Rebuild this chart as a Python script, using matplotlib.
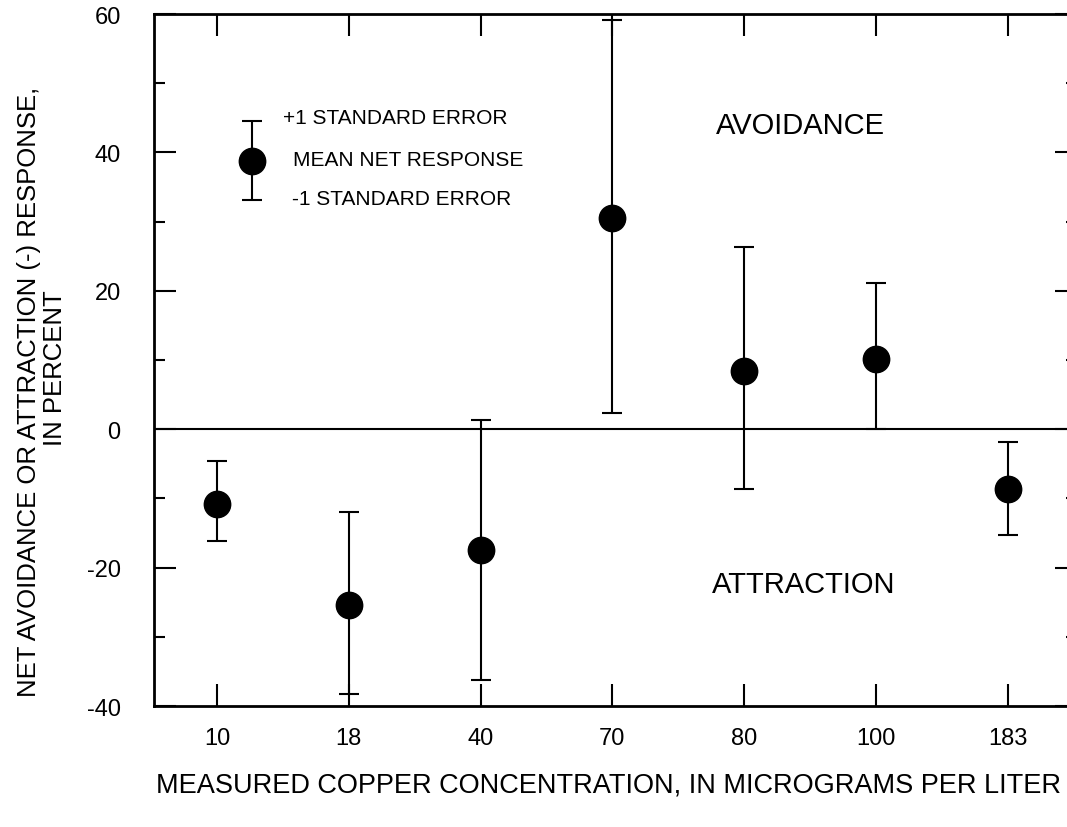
import numpy as np
import matplotlib
matplotlib.use("Agg")
import matplotlib.pyplot as plt
from matplotlib.ticker import MultipleLocator

plt.rcParams['font.family'] = ['Liberation Sans', 'DejaVu Sans']
plt.rcParams['axes.unicode_minus'] = False

# copper concentrations (categories) and responses
concentrations = ['10', '18', '40', '70', '80', '100', '183']
mean_response = [-10.8, -25.4, -17.4, 30.6, 8.4, 10.1, -8.6]
upper_se = [-4.6, -12.0, 1.4, 59.2, 26.3, 21.1, -1.9]
lower_se = [-16.1, -38.2, -36.3, 2.3, -8.6, 0.0, -15.3]

y_ticks = [-40, -20, 0, 20, 40, 60]

x = np.arange(len(concentrations))
mean = np.array(mean_response)
yerr = [mean - np.array(lower_se), np.array(upper_se) - mean]

fig = plt.figure(figsize=(10.67, 8.28), dpi=100)
ax = fig.add_axes([0.1443, 0.1461, 0.865, 0.8357])

# zero line
ax.axhline(0, color='black', lw=1.5, zorder=1)

ax.errorbar(x, mean, yerr=yerr, fmt='o', color='black', ms=19,
            elinewidth=1.5, capsize=7.5, capthick=1.5, zorder=3)

# legend key
ax.errorbar([0.266], [38.8], yerr=[[5.6], [5.8]], fmt='o', color='black', ms=19,
            elinewidth=1.5, capsize=7.5, capthick=1.5, zorder=3)
ax.text(0.50, 45.1, '+1 STANDARD ERROR', fontsize=15, va='center', ha='left')
ax.text(0.575, 39.0, 'MEAN NET RESPONSE', fontsize=15, va='center', ha='left')
ax.text(0.57, 33.4, '-1 STANDARD ERROR', fontsize=15, va='center', ha='left')

ax.text(4.43, 43.9, 'AVOIDANCE', fontsize=21, ha='center', va='center')
ax.text(4.45, -22.3, 'ATTRACTION', fontsize=21, ha='center', va='center')

ax.set_xlim(-0.478, 6.525)
ax.set_ylim(-40, 60)
ax.set_xticks(x)
ax.set_xticklabels(concentrations)
ax.set_yticks(y_ticks)
ax.yaxis.set_minor_locator(MultipleLocator(10))

ax.tick_params(axis='x', which='major', direction='in', top=True, bottom=True,
               length=16, width=1.5, labelsize=17, pad=15)
ax.tick_params(axis='y', which='major', direction='in', left=True, right=True,
               length=16, width=1.5, labelsize=17, pad=24)
ax.tick_params(axis='y', which='minor', direction='in', left=True, right=True,
               length=8, width=1.5)

for s in ax.spines.values():
    s.set_linewidth(2)

ax.set_xlabel('MEASURED COPPER CONCENTRATION, IN MICROGRAMS PER LITER',
              fontsize=19.5)
ax.xaxis.set_label_coords(0.493, -0.095)

# y-axis title, two lines placed separately as in the original
ax.text(-0.1354, 0.455, 'NET AVOIDANCE OR ATTRACTION (-) RESPONSE,',
        transform=ax.transAxes, rotation=90, fontsize=18.5,
        ha='center', va='center')
ax.text(-0.107, 0.49, 'IN PERCENT', transform=ax.transAxes, rotation=90,
        fontsize=18.5, ha='center', va='center')

plt.savefig('out.png', dpi=100)
